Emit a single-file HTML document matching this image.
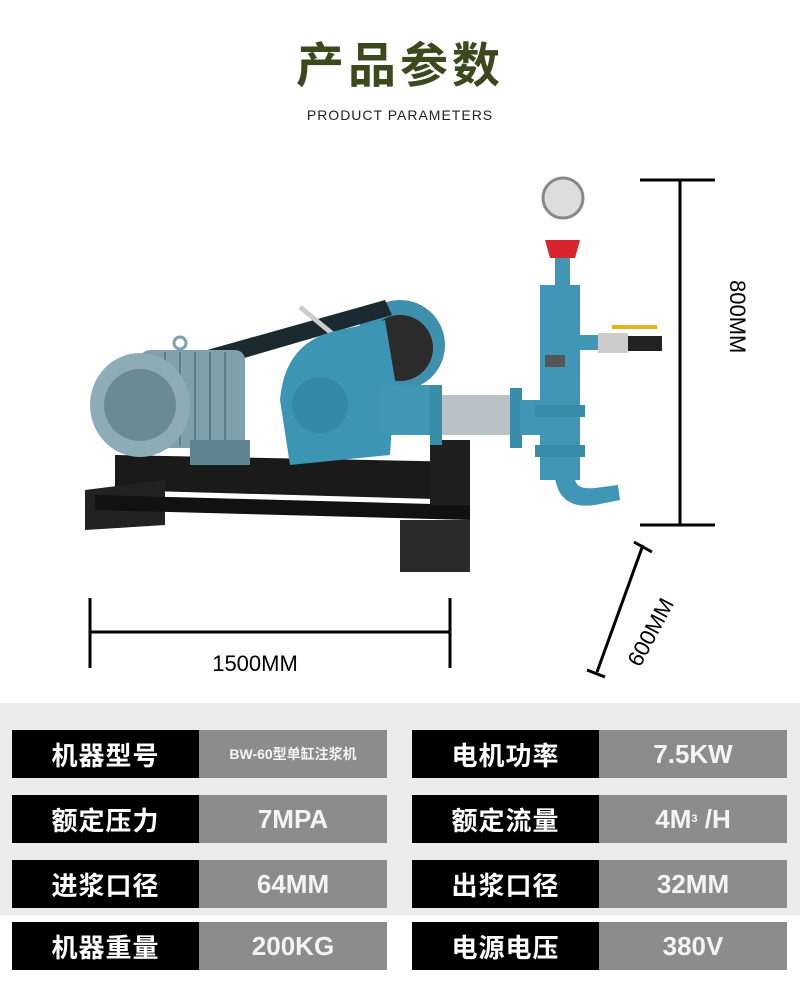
<!DOCTYPE html>
<html><head><meta charset="utf-8"><style>
body{margin:0;width:800px;height:1000px;background:#fff;position:relative;overflow:hidden;font-family:"Liberation Sans","Noto Sans CJK SC",sans-serif}
.t{position:absolute;left:0;width:800px;text-align:center}
.band{position:absolute;left:0;top:703px;width:800px;height:212px;background:#ececec}
.row{position:absolute;height:48px;display:flex}
.k{width:187px;background:#000;color:#fff;font-weight:bold;font-size:26px;display:flex;align-items:center;justify-content:center;letter-spacing:1px}
.v{width:188px;background:#8c8c8c;color:#f4f4f4;font-weight:bold;font-size:26px;display:flex;align-items:center;justify-content:center}
</style></head><body>
<div class="t" style="top:26px;font-size:48px;font-weight:bold;color:#3a4a1c;letter-spacing:4px">产品参数</div>
<div class="t" style="top:107px;font-size:14px;color:#222;letter-spacing:1px">PRODUCT PARAMETERS</div>
<svg width="800" height="700" style="position:absolute;left:0;top:0">
<g stroke="#000" stroke-width="3" fill="none">
<line x1="680" y1="180" x2="680" y2="525"/><line x1="640" y1="180" x2="715" y2="180"/><line x1="640" y1="525" x2="715" y2="525"/>
<line x1="90" y1="632" x2="450" y2="632"/><line x1="90" y1="598" x2="90" y2="668"/><line x1="450" y1="598" x2="450" y2="668"/>
<line x1="643" y1="545" x2="597" y2="672"/><line x1="634" y1="542" x2="652" y2="552"/><line x1="587" y1="670" x2="605" y2="677"/>
</g>
<text x="255" y="671" font-size="22" text-anchor="middle" font-family="Liberation Sans">1500MM</text>
<text transform="translate(730,280) rotate(90)" font-size="22" font-family="Liberation Sans">800MM</text>
<text transform="translate(640,668) rotate(-62)" font-size="22" font-family="Liberation Sans">600MM</text>
<polygon points="115,455 470,462 470,500 115,490" fill="#1a1a1a"/>
<polygon points="85,490 165,480 165,525 85,530" fill="#222"/>
<polygon points="95,495 470,505 470,520 95,510" fill="#111"/>
<rect x="400" y="520" width="70" height="52" fill="#2a2a2a"/>
<rect x="430" y="440" width="40" height="65" fill="#1f1f1f"/>
<circle cx="400" cy="345" r="45" fill="#3e90ad"/><circle cx="400" cy="348" r="33" fill="#2b2b2b"/>
<polygon points="200,352 385,300 392,315 210,368" fill="#1b2a30"/>
<line x1="300" y1="307" x2="340" y2="340" stroke="#ccc" stroke-width="5"/>
<rect x="140" y="350" width="105" height="98" rx="10" fill="#7fa1ab"/>
<g stroke="#5b7f88" stroke-width="2"><line x1="165" y1="352" x2="165" y2="446"/><line x1="180" y1="352" x2="180" y2="446"/><line x1="195" y1="352" x2="195" y2="446"/><line x1="210" y1="352" x2="210" y2="446"/><line x1="225" y1="352" x2="225" y2="446"/></g>
<ellipse cx="140" cy="405" rx="50" ry="52" fill="#8eacb5"/><circle cx="140" cy="405" r="36" fill="#6a8a94"/>
<circle cx="180" cy="343" r="6" fill="none" stroke="#7fa1ab" stroke-width="3"/>
<rect x="190" y="440" width="60" height="25" fill="#5e8590"/>
<path d="M280,400 Q285,340 340,330 L385,320 L395,380 L390,455 L290,465 Z" fill="#3c95b3"/>
<circle cx="320" cy="405" r="28" fill="#3589a6"/>
<rect x="380" y="385" width="60" height="50" fill="#3f97b5"/>
<rect x="430" y="385" width="12" height="60" fill="#3a8da9"/>
<rect x="442" y="395" width="70" height="40" fill="#b9c2c5"/>
<rect x="510" y="388" width="12" height="60" fill="#3a8da9"/>
<rect x="520" y="400" width="25" height="35" fill="#3f97b5"/>
<rect x="540" y="285" width="40" height="195" fill="#3f97b5"/>
<rect x="535" y="405" width="50" height="12" fill="#3a8da9"/>
<rect x="535" y="445" width="50" height="12" fill="#3a8da9"/>
<rect x="555" y="255" width="15" height="35" fill="#3f97b5"/>
<polygon points="545,240 580,240 575,258 550,258" fill="#d8242c"/>
<circle cx="563" cy="198" r="20" fill="#ddd" stroke="#888" stroke-width="3"/>
<path d="M555,478 Q560,510 595,505 L620,500 L618,485 L595,488 Q575,490 575,478 Z" fill="#3f97b5"/>
<rect x="580" y="335" width="20" height="15" fill="#3f97b5"/>
<rect x="598" y="333" width="30" height="20" fill="#ccc"/>
<rect x="628" y="336" width="34" height="15" fill="#222"/>
<line x1="612" y1="327" x2="657" y2="327" stroke="#e3b21c" stroke-width="4"/>
<rect x="545" y="355" width="20" height="12" fill="#555"/>
</svg>
<div class="band"></div>
<div class="row" style="left:12px;top:730px"><div class="k">机器型号</div><div class="v" style="font-size:14px">BW-60型单缸注浆机</div></div>
<div class="row" style="left:412px;top:730px"><div class="k">电机功率</div><div class="v">7.5KW</div></div>
<div class="row" style="left:12px;top:795px"><div class="k">额定压力</div><div class="v">7MPA</div></div>
<div class="row" style="left:412px;top:795px"><div class="k">额定流量</div><div class="v">4M<sup style="font-size:11px">3</sup>&nbsp;/H</div></div>
<div class="row" style="left:12px;top:860px"><div class="k">进浆口径</div><div class="v">64MM</div></div>
<div class="row" style="left:412px;top:860px"><div class="k">出浆口径</div><div class="v">32MM</div></div>
<div class="row" style="left:12px;top:922px"><div class="k">机器重量</div><div class="v">200KG</div></div>
<div class="row" style="left:412px;top:922px"><div class="k">电源电压</div><div class="v">380V</div></div>
</body></html>
